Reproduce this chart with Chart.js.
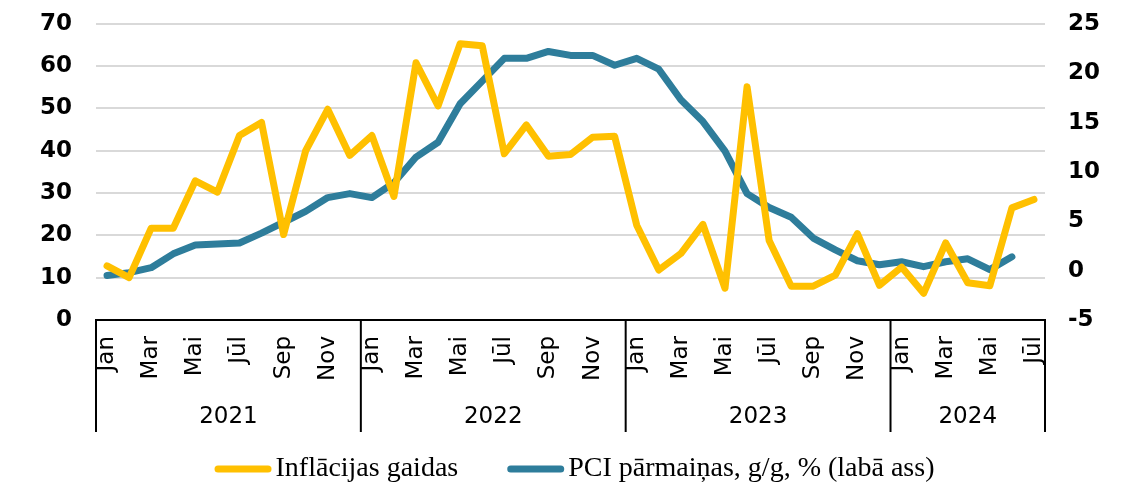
<!DOCTYPE html>
<html>
<head>
<meta charset="utf-8">
<script src="https://cdn.jsdelivr.net/npm/chart.js@4"></script>
<style>
  html, body { margin: 0; padding: 0; background: #fff; }
  #wrap { width: 1125px; height: 483px; overflow: hidden; }
  #inner { width: 1125px; height: 497px; margin-top: -14px; }
</style>
</head>
<body>
<div id="wrap"><div id="inner"><canvas id="chart"></canvas></div></div>
<script>
// months Jan 2021 - Jul 2024
const months = [
    'Jan', 'Feb', 'Mar', 'Apr', 'Mai', 'Jūn', 'Jūl', 'Aug', 'Sep', 'Okt', 'Nov', 'Dec',
    'Jan', 'Feb', 'Mar', 'Apr', 'Mai', 'Jūn', 'Jūl', 'Aug', 'Sep', 'Okt', 'Nov', 'Dec',
    'Jan', 'Feb', 'Mar', 'Apr', 'Mai', 'Jūn', 'Jūl', 'Aug', 'Sep', 'Okt', 'Nov', 'Dec',
    'Jan', 'Feb', 'Mar', 'Apr', 'Mai', 'Jūn', 'Jūl'
];
const years = ['2021', '2022', '2023', '2024'];
const yearStart = [0, 12, 24, 36];

const inflExpect = [
    12.8, 10.0, 21.7, 21.7, 32.9, 30.2, 43.6, 46.7, 20.2, 40.0, 49.8, 38.9,
    43.6, 29.2, 60.8, 50.6, 65.3, 64.8, 39.3, 46.1, 38.7, 39.1, 43.2, 43.4,
    22.4, 11.8, 15.7, 22.6, 7.5, 55.1, 18.8, 8.0, 8.0, 10.6, 20.4, 8.2,
    12.5, 6.3, 18.2, 8.8, 8.1, 26.5, 28.5
];
const hicpChange = [
    -0.5, -0.2, 0.3, 1.7, 2.6, 2.7, 2.8, 3.8, 4.9, 6.0, 7.4, 7.8,
    7.4, 8.9, 11.5, 13.0, 16.9, 19.2, 21.5, 21.5, 22.2, 21.8, 21.8, 20.8,
    21.5, 20.4, 17.3, 15.1, 12.1, 7.8, 6.4, 5.4, 3.3, 2.1, 1.0, 0.6,
    0.9, 0.4, 0.9, 1.2, 0.1, 1.4, null
];

const leftTicks = { min: 0, max: 70, step: 10 };
const rightTicks = { min: -5, max: 25, step: 5 };

Chart.defaults.font.family = 'DejaVu Sans';
Chart.defaults.color = '#000000';

// year row + divider lines under the month labels, and the legend row
const yearAxis = {
    id: 'yearAxis',
    afterDraw(chart) {
        const ctx = chart.ctx;
        const x = chart.scales.x;
        const half = (x.getPixelForValue(1) - x.getPixelForValue(0)) / 2;
        const top = chart.chartArea.bottom;
        const bottom = x.bottom;
        ctx.save();
        ctx.strokeStyle = '#000000';
        ctx.lineWidth = 2;
        const edges = yearStart.map(i => x.getPixelForValue(i) - half);
        edges.push(x.getPixelForValue(months.length - 1) + half);
        edges.forEach(px => {
            ctx.beginPath();
            ctx.moveTo(px, top);
            ctx.lineTo(px, bottom);
            ctx.stroke();
        });
        ctx.fillStyle = '#000000';
        ctx.font = '23px "DejaVu Sans"';
        ctx.textAlign = 'center';
        ctx.textBaseline = 'middle';
        years.forEach((y, i) => {
            ctx.fillText(y, (edges[i] + edges[i + 1]) / 2, top + 97);
        });

        // legend
        const sets = chart.data.datasets;
        ctx.font = '28px "Liberation Serif"';
        ctx.textAlign = 'left';
        ctx.textBaseline = 'middle';
        const mark = 57, gapText = 4, gapItem = 49;
        const widths = sets.map(d => ctx.measureText(d.label).width);
        let total = 0;
        widths.forEach((w, i) => { total += mark + gapText + w + (i > 0 ? gapItem : 0); });
        let lx = (chart.chartArea.left + chart.chartArea.right) / 2 - total / 2 + 4;
        const ly = bottom + 37;
        sets.forEach((d, i) => {
            ctx.strokeStyle = d.borderColor;
            ctx.lineWidth = 7;
            ctx.lineCap = 'round';
            ctx.beginPath();
            ctx.moveTo(lx + 3.5, ly);
            ctx.lineTo(lx + mark - 3.5, ly);
            ctx.stroke();
            ctx.fillText(d.label, lx + mark + gapText, ly);
            lx += mark + gapText + widths[i] + gapItem;
        });
        ctx.restore();
    }
};

const ctx = document.getElementById('chart').getContext('2d');
const chart = new Chart(ctx, {
    type: 'line',
    data: {
        labels: months,
        datasets: [
            {
                label: 'Inflācijas gaidas',
                data: inflExpect,
                borderColor: '#FFC000',
                backgroundColor: '#FFC000',
                borderWidth: 7,
                pointRadius: 0,
                tension: 0,
                borderJoinStyle: 'round',
                borderCapStyle: 'round',
                yAxisID: 'y'
            },
            {
                label: 'PCI pārmaiņas, g/g, % (labā ass)',
                data: hicpChange,
                borderColor: '#2E7D9B',
                backgroundColor: '#2E7D9B',
                borderWidth: 7,
                pointRadius: 0,
                tension: 0,
                borderJoinStyle: 'round',
                borderCapStyle: 'round',
                yAxisID: 'y1'
            }
        ]
    },
    options: {
        responsive: true,
        maintainAspectRatio: false,
        animation: false,
        layout: { padding: { top: 0, left: 0, right: 0, bottom: 51 } },
        plugins: {
            tooltip: { enabled: false },
            legend: { display: false }
        },
        scales: {
            x: {
                offset: true,
                grid: { display: false, drawTicks: false },
                border: { display: true, color: '#000000', width: 2 },
                ticks: {
                    autoSkip: false,
                    minRotation: 90,
                    maxRotation: 90,
                    padding: 16,
                    font: { size: 23 },
                    callback: function (val, index) {
                        return index % 2 === 0 ? this.getLabelForValue(val) : '';
                    }
                },
                afterFit(scale) { scale.height = 112; }
            },
            y: {
                position: 'left',
                min: leftTicks.min,
                max: leftTicks.max,
                grid: { color: '#d9d9d9', lineWidth: 2, drawTicks: false },
                border: { display: false },
                ticks: {
                    stepSize: leftTicks.step,
                    padding: 24,
                    font: { size: 23, weight: 'bold' }
                },
                afterFit(scale) { scale.width = 96; }
            },
            y1: {
                position: 'right',
                min: rightTicks.min,
                max: rightTicks.max,
                grid: { display: false, drawTicks: false },
                border: { display: false },
                ticks: {
                    stepSize: rightTicks.step,
                    padding: 23,
                    font: { size: 23, weight: 'bold' }
                },
                afterFit(scale) { scale.width = 80; }
            }
        }
    },
    plugins: [yearAxis]
});
</script>
</body>
</html>
